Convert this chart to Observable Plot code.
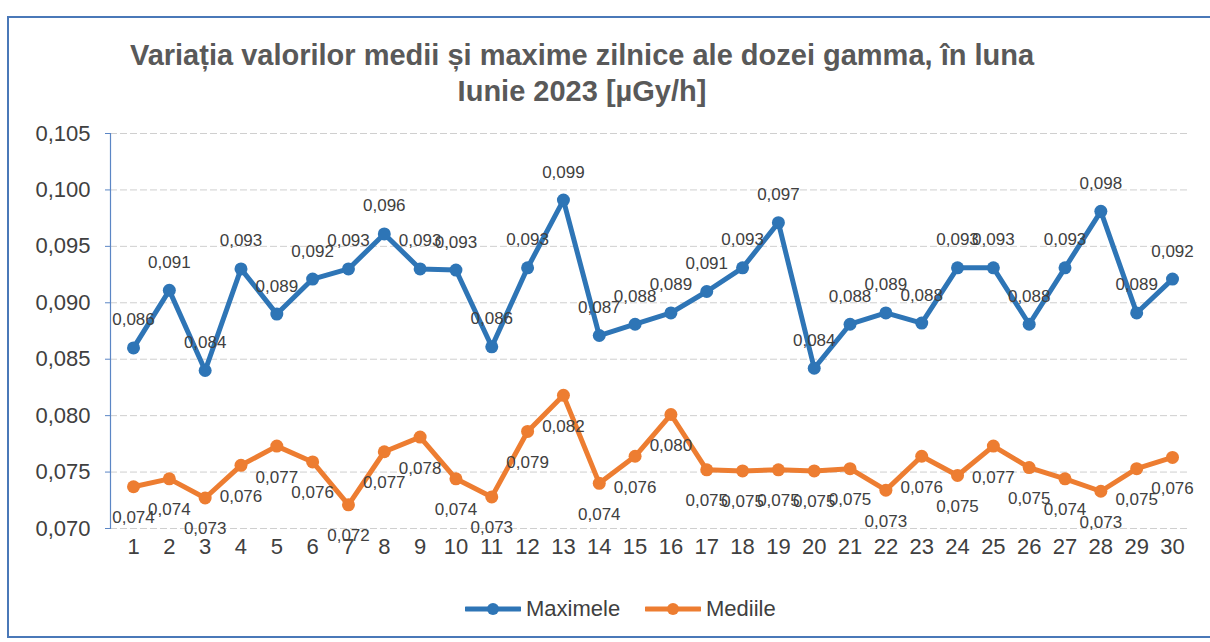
<!DOCTYPE html>
<html>
<head>
<meta charset="utf-8">
<script src="https://cdn.jsdelivr.net/npm/d3@7"></script>
<script src="https://cdn.jsdelivr.net/npm/@observablehq/plot@0.6"></script>
<style>
  html, body { margin: 0; padding: 0; background: #fff; }
  body { width: 1210px; height: 642px; overflow: hidden; position: relative; font-family: "Liberation Sans", Arial, sans-serif; }
  #frame { position: absolute; left: 7px; top: 16px; width: 1215px; height: 618px;
           border-left: 2px solid #4a78b8; border-top: 2px solid #4a78b8; border-bottom: 2px solid #4a78b8; }
  #title { position: absolute; left: 0; top: 37px; width: 1164px; text-align: center;
           font-weight: bold; font-size: 29px; line-height: 36px; color: #595959; }
  #chart { position: absolute; left: 0; top: 110px; }
  .leg { position: absolute; top: 596px; height: 26px; display: flex; align-items: center;
         font-size: 22px; color: #404040; }
  .leg svg { margin-right: 5px; }
</style>
</head>
<body>
<div id="frame"></div>
<div id="title">Variația valorilor medii și maxime zilnice ale dozei gamma, în luna<br>Iunie 2023 [µGy/h]</div>
<div id="chart"></div>
<div class="leg" id="leg1" style="left:465px"></div>
<div class="leg" id="leg2" style="left:645px"></div>
<script>
const days = [1,2,3,4,5,6,7,8,9,10,11,12,13,14,15,16,17,18,19,20,21,22,23,24,25,26,27,28,29,30];
const maxValues = [0.0860,0.0911,0.0840,0.0930,0.0890,0.0921,0.0930,0.0961,0.0930,0.0929,
                   0.0861,0.0931,0.0991,0.0871,0.0881,0.0891,0.0910,0.0931,0.0971,0.0842,
                   0.0881,0.0891,0.0882,0.0931,0.0931,0.0881,0.0931,0.0981,0.0891,0.0921];
const meanValues = [0.0737,0.0744,0.0727,0.0756,0.0773,0.0759,0.0721,0.0768,0.0781,0.0744,
                    0.0728,0.0786,0.0818,0.0740,0.0764,0.0801,0.0752,0.0751,0.0752,0.0751,
                    0.0753,0.0734,0.0764,0.0747,0.0773,0.0754,0.0744,0.0733,0.0753,0.0763];
const yTicks = [0.070,0.075,0.080,0.085,0.090,0.095,0.100,0.105];
const seriesNames = ["Maximele","Mediile"];
const colors = ["#2e75b6","#ed7d31"];

const fmt = v => v.toFixed(3).replace(".", ",");
const data = days.map((d, i) => ({day: d, max: maxValues[i], mean: meanValues[i]}));

const chart = Plot.plot({
  width: 1210,
  height: 463,
  marginLeft: 110,
  marginRight: 20,
  marginTop: 23,
  marginBottom: 45,
  style: {fontFamily: "Liberation Sans, Arial, sans-serif", background: "transparent", overflow: "visible"},
  x: {type: "linear", domain: [1, 30], range: [133, 1172]},
  y: {domain: [0.070, 0.105]},
  marks: [
    Plot.ruleY(yTicks, {stroke: "#cfcfcf", strokeWidth: 1, strokeDasharray: "7,3"}),
    Plot.frame({anchor: "left", stroke: "#5b86c5", strokeWidth: 1.2}),
    Plot.axisY({ticks: yTicks, tickFormat: fmt, tickSize: 5, tickPadding: 15, fontSize: 22,
                stroke: "#5b86c5", fill: "#404040", label: null}),
    Plot.axisX({ticks: days, tickFormat: d => String(d), tickSize: 0, tickPadding: 10, fontSize: 22, fill: "#404040", label: null}),
    Plot.line(data, {x: "day", y: "max", stroke: colors[0], strokeWidth: 5, strokeLinejoin: "round"}),
    Plot.dot(data, {x: "day", y: "max", r: 6.5, fill: colors[0]}),
    Plot.line(data, {x: "day", y: "mean", stroke: colors[1], strokeWidth: 5, strokeLinejoin: "round"}),
    Plot.dot(data, {x: "day", y: "mean", r: 6.5, fill: colors[1]}),
    Plot.text(data, {x: "day", y: "max", text: d => fmt(d.max), dy: -28, fontSize: 17, fill: "#404040"}),
    Plot.text(data, {x: "day", y: "mean", text: d => fmt(d.mean), dy: 31, fontSize: 17, fill: "#404040"})
  ]
});
document.getElementById("chart").appendChild(chart);

function swatch(color) {
  return `<svg width="56" height="14" viewBox="0 0 56 14"><line x1="1" y1="7" x2="55" y2="7" stroke="${color}" stroke-width="5" stroke-linecap="round"/><circle cx="28" cy="7" r="6" fill="${color}"/></svg>`;
}
document.getElementById("leg1").innerHTML = swatch(colors[0]) + `<span>${seriesNames[0]}</span>`;
document.getElementById("leg2").innerHTML = swatch(colors[1]) + `<span>${seriesNames[1]}</span>`;
</script>
</body>
</html>
